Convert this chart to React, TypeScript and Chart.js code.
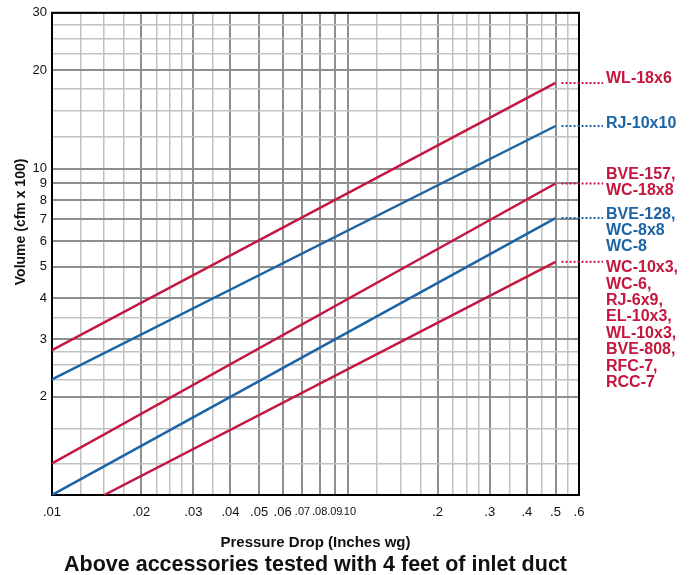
import React, { useEffect, useRef } from "react";
import { Chart, registerables } from "chart.js";

Chart.register(...registerables);

// ---- data ----
const seriesNames = ["WL-18x6", "RJ-10x10", "BVE-157", "BVE-128", "WC-10x3"];
const startDrop = [0.01, 0.01, 0.01, 0.01, 0.015];
const startVolume = [2.78, 2.26, 1.25, 1.0, 1.0];
const endDrop = [0.5, 0.5, 0.5, 0.5, 0.5];
const endVolume = [18.3, 13.5, 9.0, 7.05, 5.18];
const seriesColors = ["#c4163f", "#1b64a6", "#c4163f", "#1b64a6", "#c4163f"];
const labelLines = [
  ["WL-18x6"],
  ["RJ-10x10"],
  ["BVE-157,", "WC-18x8"],
  ["BVE-128,", "WC-8x8", "WC-8"],
  ["WC-10x3,", "WC-6,", "RJ-6x9,", "EL-10x3,", "WL-10x3,", "BVE-808,", "RFC-7,", "RCC-7"],
];

const xGrid = [
  0.01, 0.0125, 0.015, 0.0175, 0.02, 0.0225, 0.025, 0.0275, 0.03, 0.035, 0.04, 0.05, 0.06, 0.07, 0.08, 0.09,
  0.1, 0.125, 0.15, 0.175, 0.2, 0.225, 0.25, 0.275, 0.3, 0.35, 0.4, 0.45, 0.5, 0.55, 0.6,
];
const xTickValues = [0.01, 0.02, 0.03, 0.04, 0.05, 0.06, 0.07, 0.08, 0.09, 0.1, 0.2, 0.3, 0.4, 0.5, 0.6];
const xTickLabels = [".01", ".02", ".03", ".04", ".05", ".06", ".07", ".08", ".09", ".10", ".2", ".3", ".4", ".5", ".6"];

const yGrid = [
  1, 1.25, 1.6, 2, 2.25, 2.5, 2.75, 3, 3.5, 4, 5, 6, 7, 8, 9, 10, 12.5, 15, 17.5, 20, 22.5, 25, 27.5, 30,
];
const yTickValues = [2, 3, 4, 5, 6, 7, 8, 9, 10, 20, 30];
const yTickLabels = ["2", "3", "4", "5", "6", "7", "8", "9", "10", "20", "30"];

const xTitle = "Pressure Drop (Inches wg)";
const yTitle = "Volume (cfm x 100)";
const caption = "Above accessories tested with 4 feet of inlet duct";

// layout constants
const labelNudge = [-4, -2, -9, -4, 6];
const FONT = "'Liberation Sans', Arial, Helvetica, sans-serif";

const isMajor = (v: number) => {
  const m = v / Math.pow(10, Math.floor(Math.log10(v) + 1e-9));
  return Math.abs(m - Math.round(m)) < 1e-6;
};
const findLabel = (v: number, vals: number[], labels: string[]) => {
  const i = vals.findIndex((t) => Math.abs(t - v) / t < 1e-6);
  return i >= 0 ? labels[i] : "";
};

const decorPlugin = {
  id: "decor",
  beforeDatasetsDraw(chart: any) {
    const { ctx, chartArea } = chart;
    ctx.save();
    ctx.strokeStyle = "#000";
    ctx.lineWidth = 2;
    ctx.strokeRect(chartArea.left, chartArea.top, chartArea.right - chartArea.left, chartArea.bottom - chartArea.top);
    ctx.restore();
  },
  afterDraw(chart: any) {
    const { ctx, chartArea, scales } = chart;
    const xs = scales.x;
    const ys = scales.y;
    ctx.save();
    // leaders + labels
    seriesNames.forEach((_, i) => {
      const y = ys.getPixelForValue(endVolume[i]);
      const x0 = xs.getPixelForValue(endDrop[i]) + 6;
      const x1 = chartArea.right + 24;
      ctx.strokeStyle = seriesColors[i];
      ctx.lineWidth = 2;
      ctx.setLineDash([2, 2]);
      ctx.beginPath();
      ctx.moveTo(x0, y);
      ctx.lineTo(x1, y);
      ctx.stroke();
      ctx.setLineDash([]);
      ctx.fillStyle = seriesColors[i];
      ctx.font = `bold 16px ${FONT}`;
      ctx.textAlign = "left";
      ctx.textBaseline = "middle";
      labelLines[i].forEach((t, k) => {
        ctx.fillText(t, chartArea.right + 27, y + labelNudge[i] + k * 16.4);
      });
    });
    // axis titles
    ctx.fillStyle = "#111";
    ctx.textAlign = "center";
    ctx.textBaseline = "middle";
    ctx.font = `bold 15px ${FONT}`;
    ctx.fillText(xTitle, (chartArea.left + chartArea.right) / 2, chartArea.bottom + 48);
    ctx.save();
    ctx.translate(21, (chartArea.top + chartArea.bottom) / 2 - 32);
    ctx.rotate(-Math.PI / 2);
    ctx.font = `bold 14px ${FONT}`;
    ctx.fillText(yTitle, 0, 0);
    ctx.restore();
    ctx.font = `bold 21.5px ${FONT}`;
    ctx.fillText(caption, (chartArea.left + chartArea.right) / 2, chartArea.bottom + 70);
    ctx.restore();
  },
};

export default function App() {
  const ref = useRef<HTMLCanvasElement | null>(null);
  useEffect(() => {
    document.body.style.margin = "0";
    const canvas = ref.current;
    if (!canvas) return;
    const datasets = seriesNames.map((name, i) => ({
      label: name,
      data: [
        { x: startDrop[i], y: startVolume[i] },
        { x: endDrop[i], y: endVolume[i] },
      ],
      borderColor: seriesColors[i],
      backgroundColor: seriesColors[i],
      borderWidth: 2.5,
      pointRadius: 0,
      fill: false,
      tension: 0,
    }));
    const chart = new Chart(canvas, {
      type: "line",
      data: { datasets },
      plugins: [decorPlugin],
      options: {
        responsive: false,
        animation: false,
        devicePixelRatio: 1,
        layout: { padding: { left: 0, right: 115, top: 10, bottom: 0 } },
        plugins: { legend: { display: false }, tooltip: { enabled: false }, title: { display: false } },
        scales: {
          x: {
            type: "logarithmic",
            min: 0.01,
            max: 0.6,
            afterFit: (s: any) => {
              s.height = 80;
            },
            afterBuildTicks: (s: any) => {
              s.ticks = xGrid.map((v) => ({ value: v }));
            },
            border: { display: false },
            grid: {
              drawTicks: false,
              color: (c: any) => (c.tick && isMajor(c.tick.value) ? "#8e8e8e" : "#c2c2c2"),
              lineWidth: (c: any) => (c.tick && isMajor(c.tick.value) ? 2 : 1.5),
            },
            ticks: {
              autoSkip: false,
              maxRotation: 0,
              minRotation: 0,
              padding: 10,
              color: "#111",
              font: (c: any) => ({
                family: FONT,
                size: c.tick && c.tick.value > 0.065 && c.tick.value < 0.105 ? 11 : 13,
              }),
              callback: (v: any) => findLabel(Number(v), xTickValues, xTickLabels),
            },
          },
          y: {
            type: "logarithmic",
            min: 1,
            max: 30,
            afterFit: (s: any) => {
              s.width = 52;
            },
            afterBuildTicks: (s: any) => {
              s.ticks = yGrid.map((v) => ({ value: v }));
            },
            border: { display: false },
            grid: {
              drawTicks: false,
              color: (c: any) => (c.tick && isMajor(c.tick.value) ? "#8e8e8e" : "#c2c2c2"),
              lineWidth: (c: any) => (c.tick && isMajor(c.tick.value) ? 2 : 1.5),
            },
            ticks: {
              autoSkip: false,
              padding: 5,
              color: "#111",
              font: { family: FONT, size: 13 },
              callback: (v: any) => findLabel(Number(v), yTickValues, yTickLabels),
            },
          },
        },
      },
    } as any);
    return () => chart.destroy();
  }, []);
  return (
    <div style={{ width: 694, height: 575 }}>
      <canvas ref={ref} width={694} height={575} style={{ display: "block" }} />
    </div>
  );
}
